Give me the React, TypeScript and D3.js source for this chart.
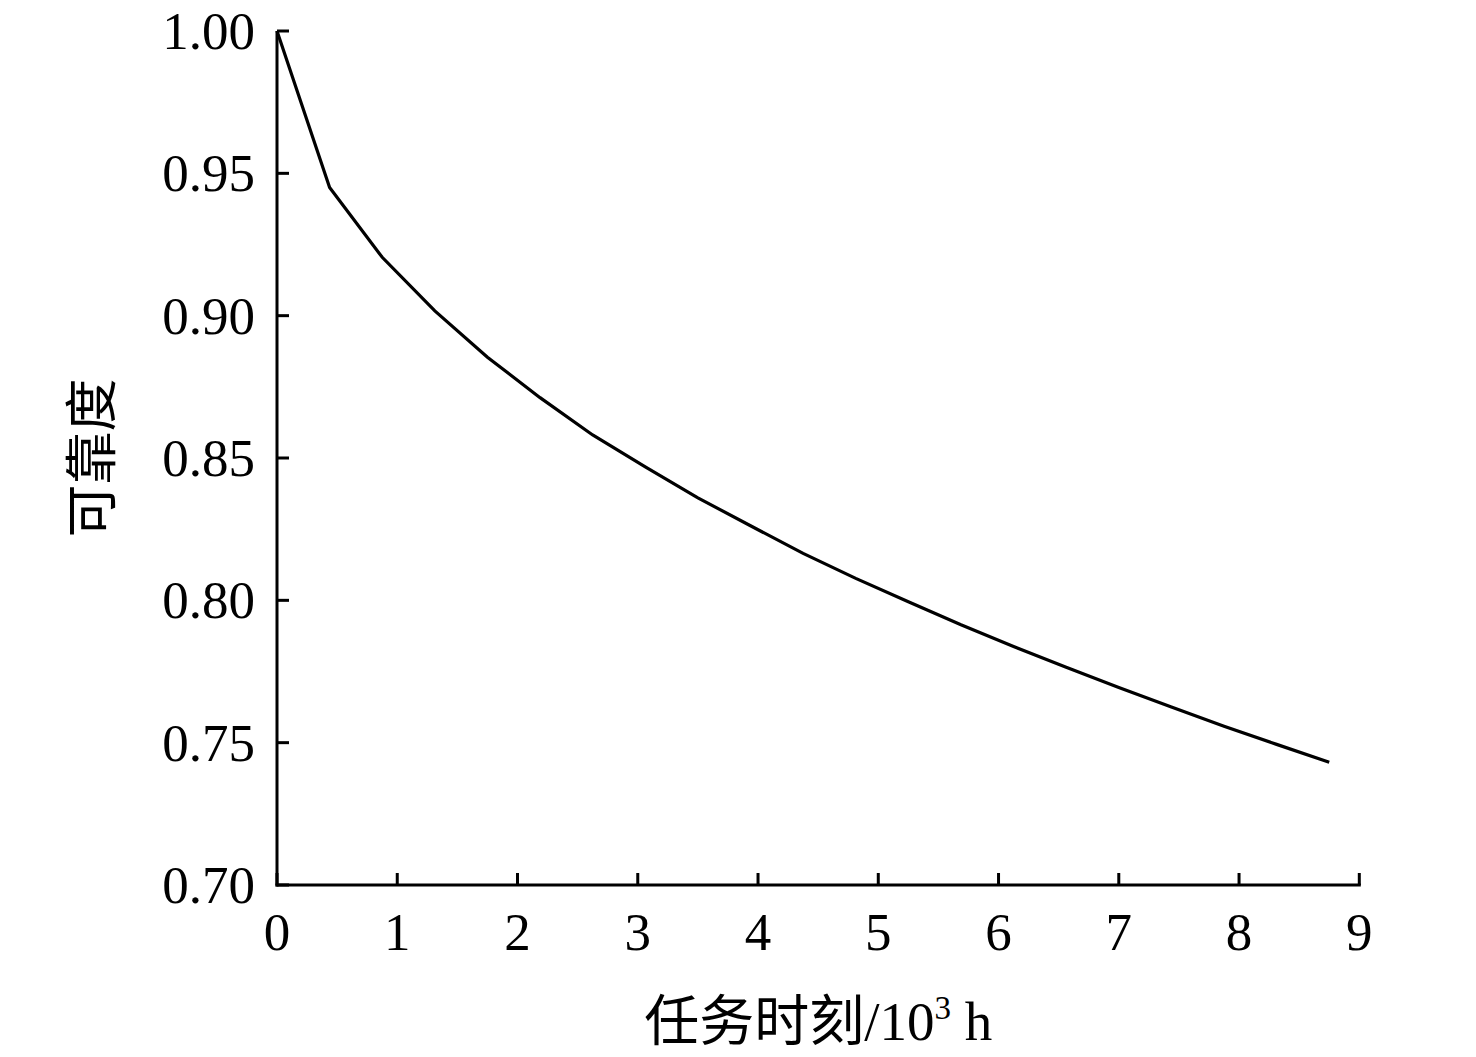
import React from "react";
import * as d3 from "d3";

const times: number[] = [
  0, 0.4375, 0.875, 1.3125, 1.75, 2.1875, 2.625, 3.0625, 3.5, 3.9375, 4.375,
  4.8125, 5.25, 5.6875, 6.125, 6.5625, 7.0, 7.4375, 7.875, 8.3125, 8.75,
];
const reliability: number[] = [
  1.0, 0.945, 0.9205, 0.9017, 0.8854, 0.8712, 0.8581, 0.8469, 0.836, 0.8262,
  0.8165, 0.8077, 0.7995, 0.7914, 0.7838, 0.7765, 0.7694, 0.7625, 0.7558,
  0.7494, 0.7431,
];
const xTicks: number[] = [0, 1, 2, 3, 4, 5, 6, 7, 8, 9];
const yTicks: number[] = [0.7, 0.75, 0.8, 0.85, 0.9, 0.95, 1.0];
const xTitle = "任务时刻/10";
const xTitleSup = "3";
const xTitleUnit = " h";
const yTitle = "可靠度";

const W = 1476;
const H = 1057;
const left = 277;
const right = 1359.3;
const top = 31;
const bottom = 885;
const font = '"Liberation Serif", "Times New Roman", "Noto Sans CJK SC", serif';

export default function App() {
  const x = d3.scaleLinear().domain([0, 9]).range([left, right]);
  const y = d3.scaleLinear().domain([0.7, 1.0]).range([bottom, top]);
  const pts = times.map((t, i) => [t, reliability[i]] as [number, number]);
  const line = d3
    .line<[number, number]>()
    .x((d) => x(d[0]))
    .y((d) => y(d[1]));
  const fmt = d3.format(".2f");
  const tickLen = 12;
  const sw = 3;

  return (
    <svg
      width={W}
      height={H}
      viewBox={`0 0 ${W} ${H}`}
      style={{ position: "absolute", left: 0, top: 0, background: "#fff" }}
    >
      <rect x={0} y={0} width={W} height={H} fill="#fff" />
      {/* axes */}
      <line x1={left} y1={top} x2={left} y2={bottom + sw / 2} stroke="#000" strokeWidth={sw} />
      <line x1={left - sw / 2} y1={bottom} x2={right + sw / 2} y2={bottom} stroke="#000" strokeWidth={sw} />
      {yTicks.map((v) => (
        <g key={"y" + v}>
          <line x1={left} x2={left + tickLen} y1={y(v)} y2={y(v)} stroke="#000" strokeWidth={sw} />
          <text
            x={left - 22}
            y={y(v) + 18}
            textAnchor="end"
            fontFamily={font}
            fontSize={53}
            fill="#000"
          >
            {fmt(v)}
          </text>
        </g>
      ))}
      {xTicks.map((v) => (
        <g key={"x" + v}>
          <line x1={x(v)} x2={x(v)} y1={bottom} y2={bottom - tickLen} stroke="#000" strokeWidth={sw} />
          <text
            x={x(v)}
            y={950}
            textAnchor="middle"
            fontFamily={font}
            fontSize={53}
            fill="#000"
          >
            {v}
          </text>
        </g>
      ))}
      {/* data line */}
      <path d={line(pts) || ""} fill="none" stroke="#000" strokeWidth={3.2} strokeLinejoin="miter" />
      {/* titles */}
      <text
        x={(left + right) / 2}
        y={1040}
        textAnchor="middle"
        fontFamily={font}
        fontSize={55}
        fill="#000"
      >
        {xTitle}
        <tspan fontSize={33} dy={-21}>
          {xTitleSup}
        </tspan>
        <tspan dy={21}>{xTitleUnit}</tspan>
      </text>
      <text
        transform={`translate(${111}, ${(top + bottom) / 2}) rotate(-90)`}
        textAnchor="middle"
        fontFamily={font}
        fontSize={53}
        fill="#000"
      >
        {yTitle}
      </text>
    </svg>
  );
}
